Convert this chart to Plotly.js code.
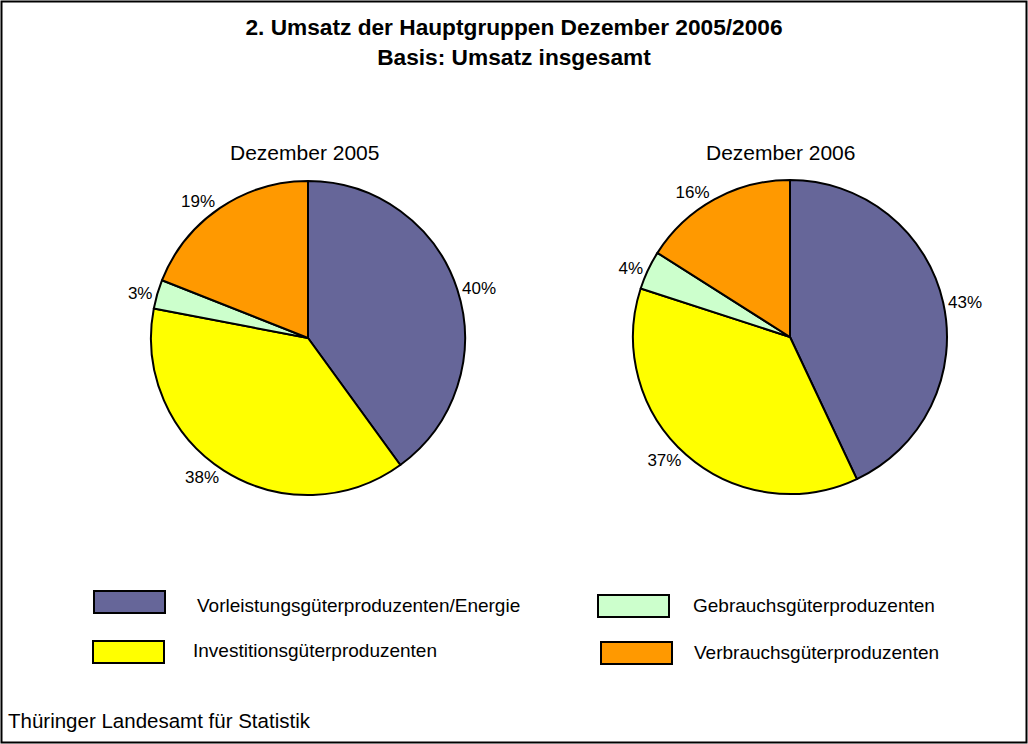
<!DOCTYPE html>
<html>
<head>
<meta charset="utf-8">
<script src="https://cdn.plot.ly/plotly-3.0.1.min.js"></script>
<style>html,body{margin:0;padding:0;background:#fff;}#chart{width:1028px;height:744px;}</style>
</head>
<body>
<div id="chart"></div>
<script>
const categories = ["Vorleistungsgüterproduzenten/Energie", "Investitionsgüterproduzenten", "Gebrauchsgüterproduzenten", "Verbrauchsgüterproduzenten"];
const colors = ["#666699", "#FFFF00", "#CCFFCC", "#FF9900"];
const values2005 = [40, 38, 3, 19];
const values2006 = [43, 37, 4, 16];
const pieTitles = ["Dezember 2005", "Dezember 2006"];
const chartTitle = "2. Umsatz der Hauptgruppen Dezember 2005/2006<br>Basis: Umsatz insgesamt";
const footer = "Thüringer Landesamt für Statistik";

const W = 1028, H = 744;
const FONT = "Liberation Sans, Arial, sans-serif";

function pie(values, dom) {
  return {
    type: "pie", values: values, labels: categories, sort: false,
    direction: "clockwise", rotation: 0,
    marker: {colors: colors, line: {color: "#000", width: 2}},
    textinfo: "percent", textposition: "outside",
    texttemplate: "%{value}%",
    outsidetextfont: {family: FONT, size: 17, color: "#000"},
    showlegend: false, hoverinfo: "label+value",
    domain: dom
  };
}

const domL = {x: [151/W, 465/W], y: [1 - 495/H, 1 - 181/H]};
const domR = {x: [633/W, 947/W], y: [1 - 494/H, 1 - 180/H]};

const data = [pie(values2005, domL), pie(values2006, domR)];

const annotations = [
  {text: pieTitles[0], x: 304/W, y: 1 - 152/H, xref: "paper", yref: "paper", xanchor: "center", yanchor: "middle", showarrow: false, font: {family: FONT, size: 21, color: "#000"}},
  {text: pieTitles[1], x: 780/W, y: 1 - 152/H, xref: "paper", yref: "paper", xanchor: "center", yanchor: "middle", showarrow: false, font: {family: FONT, size: 21, color: "#000"}},
  {text: footer, x: 6/W, y: 1 - 720/H, xref: "paper", yref: "paper", xanchor: "left", yanchor: "middle", showarrow: false, font: {family: FONT, size: 20.5, color: "#000"}}
];

// legend (2x2 grid) built from categories/colors
const legPos = [
  {bx: 94, by: 591, tx: 195, ty: 605},
  {bx: 93, by: 641, tx: 191, ty: 650},
  {bx: 598, by: 595, tx: 691, ty: 605},
  {bx: 601, by: 642, tx: 692, ty: 652}
];
const shapes = [
  {type: "rect", xref: "paper", yref: "paper", x0: 1.5/W, x1: 1 - 1.5/W, y0: 1.5/H, y1: 1 - 1.5/H, line: {color: "#000", width: 2}}
];
categories.forEach((c, i) => {
  const p = legPos[i];
  shapes.push({type: "rect", xref: "paper", yref: "paper", x0: p.bx/W, x1: (p.bx+71)/W, y0: 1 - (p.by+22)/H, y1: 1 - p.by/H, fillcolor: colors[i], line: {color: "#000", width: 2}});
  annotations.push({text: c, x: p.tx/W, y: 1 - p.ty/H, xref: "paper", yref: "paper", xanchor: "left", yanchor: "middle", showarrow: false, font: {family: FONT, size: 19, color: "#000"}});
});

const layout = {
  width: W, height: H,
  margin: {l: 0, r: 0, t: 0, b: 0},
  paper_bgcolor: "#fff",
  title: {text: chartTitle, x: 0.5, xanchor: "center", y: 1 - 35/H, yanchor: "middle", font: {family: FONT, size: 22.7, color: "#000", weight: "bold"}},
  annotations: annotations,
  shapes: shapes,
  font: {family: FONT}
};

Plotly.newPlot("chart", data, layout, {staticPlot: true});
</script>
</body>
</html>
